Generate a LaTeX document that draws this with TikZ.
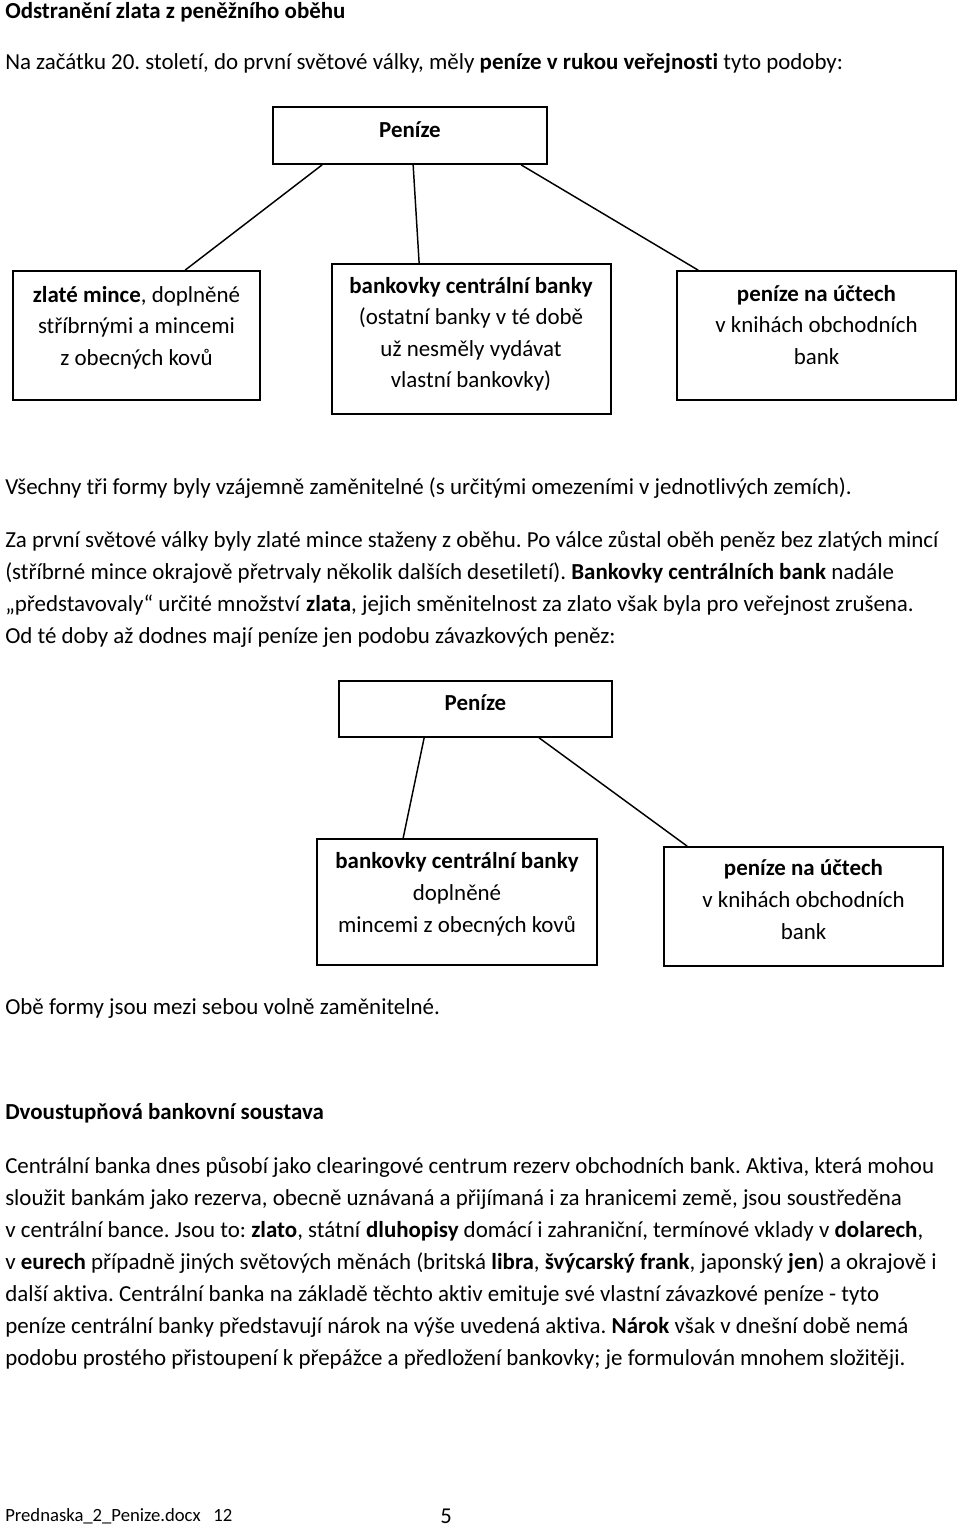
\documentclass[tikz,border=0pt]{standalone}
\usepackage{fontspec}
\setmainfont{Carlito}[Ligatures=NoCommon]
\usetikzlibrary{fit,calc}
\frenchspacing
\begin{document}
\begin{tikzpicture}[x=0.75pt,y=-0.75pt,
  box/.style={draw=black,line width=1.3pt,inner sep=0pt,fill=none},
  conn/.style={draw=black,line width=1.1pt},
  txt/.style={inner sep=0pt,anchor=base west,font=\fontsize{17.2}{24}\selectfont},
  ctxt/.style={inner sep=0pt,anchor=base,font=\fontsize{17.2}{24}\selectfont},
  foot/.style={inner sep=0pt,anchor=base west,font=\fontsize{14}{18}\selectfont}]
\useasboundingbox (0,0) rectangle (960,1528);
\fill[white] (0,0) rectangle (960,1528);

% header
\node[txt] (title) at (5,18) {\textbf{Odstranění zlata z peněžního oběhu}};
\node[txt] (intro) at (5,69) {Na začátku 20. století, do první světové války, měly \textbf{peníze v rukou veřejnosti} tyto podoby:};

% first tree
\node[box,fit={(273,107) (547,164)}] (p1) {};
\node[ctxt] (p1t) at (410,137) {\textbf{Peníze}};
\node[box,fit={(13,271) (260,400)}] (b1) {};
\node[box,fit={(332,264) (611,414)}] (b2) {};
\node[box,fit={(677,271) (956,400)}] (b3) {};

\node[ctxt] (b1a) at (136.5,302) {\textbf{zlaté mince}, doplněné};
\node[ctxt] (b1b) at (136.5,333.5) {stříbrnými a mincemi};
\node[ctxt] (b1c) at (136.5,365) {z obecných kovů};

\node[ctxt] (b2a) at (471,293) {\textbf{bankovky centrální banky}};
\node[ctxt] (b2b) at (471,324.5) {(ostatní banky v té době};
\node[ctxt] (b2c) at (471,356) {už nesměly vydávat};
\node[ctxt] (b2d) at (471,387.5) {vlastní bankovky)};

\node[ctxt] (b3a) at (816.5,301) {\textbf{peníze na účtech}};
\node[ctxt] (b3b) at (816.5,332.5) {v knihách obchodních};
\node[ctxt] (b3c) at (816.5,364) {bank};

\draw[conn] ($(p1.south west)+(50,0)$) -- ($(b1.north west)+(173,0)$);
\draw[conn] ($(p1.south west)+(141,0)$) -- ($(b2.north west)+(88,0)$);
\draw[conn] ($(p1.south west)+(249,0)$) -- ($(b3.north west)+(22,0)$);

% middle text
\node[txt] (m1) at (5,494) {Všechny tři formy byly vzájemně zaměnitelné (s určitými omezeními v jednotlivých zemích).};
\node[txt] (m2) at (5,547) {Za první světové války byly zlaté mince staženy z oběhu. Po válce zůstal oběh peněz bez zlatých mincí};
\node[txt] (m3) at (5,579) {(stříbrné mince okrajově přetrvaly několik dalších desetiletí). \textbf{Bankovky centrálních bank} nadále};
\node[txt] (m4) at (5,611) {„představovaly“ určité množství \textbf{zlata}, jejich směnitelnost za zlato však byla pro veřejnost zrušena.};
\node[txt] (m5) at (5,643) {Od té doby až dodnes mají peníze jen podobu závazkových peněz:};

% second tree
\node[box,fit={(339,681) (612,737)}] (p2) {};
\node[ctxt] (p2t) at (475.5,710) {\textbf{Peníze}};
\node[box,fit={(317,839) (597,965)}] (ba) {};
\node[box,fit={(664,847) (943,966)}] (bb) {};

\node[ctxt] (baa) at (457,868) {\textbf{bankovky centrální banky}};
\node[ctxt] (bab) at (457,900) {doplněné};
\node[ctxt] (bac) at (457,932) {mincemi z obecných kovů};

\node[ctxt] (bba) at (803.5,875) {\textbf{peníze na účtech}};
\node[ctxt] (bbb) at (803.5,907) {v knihách obchodních};
\node[ctxt] (bbc) at (803.5,939) {bank};

\draw[conn] ($(p2.south west)+(86,0)$) -- ($(ba.north west)+(87,0)$);
\draw[conn] ($(p2.south west)+(201,0)$) -- ($(bb.north west)+(24,0)$);

\node[txt] (o1) at (5,1014) {Obě formy jsou mezi sebou volně zaměnitelné.};

% second section
\node[txt] (h2) at (5,1119) {\textbf{Dvoustupňová bankovní soustava}};
\node[txt] (q1) at (5,1173) {Centrální banka dnes působí jako clearingové centrum rezerv obchodních bank. Aktiva, která mohou};
\node[txt] (q2) at (5,1205) {sloužit bankám jako rezerva, obecně uznávaná a přijímaná i za hranicemi země, jsou soustředěna};
\node[txt] (q3) at (5,1237) {v centrální bance. Jsou to: \textbf{zlato}, státní \textbf{dluhopisy} domácí i zahraniční, termínové vklady v \textbf{dolarech},};
\node[txt] (q4) at (5,1269) {v \textbf{eurech} případně jiných světových měnách (britská \textbf{libra}, \textbf{švýcarský frank}, japonský \textbf{jen}) a okrajově i};
\node[txt] (q5) at (5,1301) {další aktiva. Centrální banka na základě těchto aktiv emituje své vlastní závazkové peníze - tyto};
\node[txt] (q6) at (5,1333) {peníze centrální banky představují nárok na výše uvedená aktiva. \textbf{Nárok} však v dnešní době nemá};
\node[txt] (q7) at (5,1365) {podobu prostého přistoupení k přepážce a předložení bankovky; je formulován mnohem složitěji.};

% footer
\node[foot] (f1) at (5,1521) {Prednaska\_2\_Penize.docx\ \ \ 12};
\node[inner sep=0pt,anchor=base west,font=\fontsize{17}{20}\selectfont] (f2) at (440,1523) {5};
\end{tikzpicture}
\end{document}
